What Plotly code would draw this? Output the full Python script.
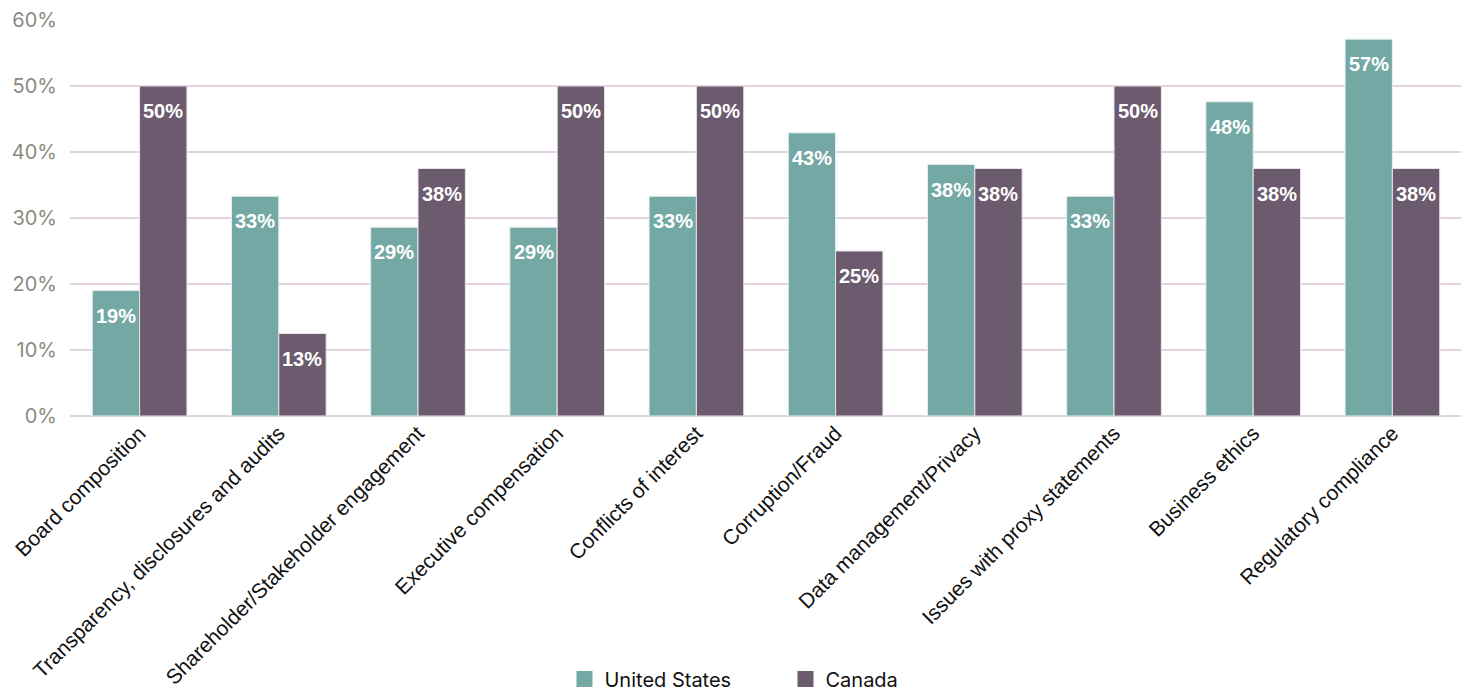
import plotly.graph_objects as go

categories = ["Board composition", "Transparency, disclosures and audits",
              "Shareholder/Stakeholder engagement", "Executive compensation",
              "Conflicts of interest", "Corruption/Fraud", "Data management/Privacy",
              "Issues with proxy statements", "Business ethics", "Regulatory compliance"]
us_values = [19.0, 33.3, 28.6, 28.6, 33.3, 42.9, 38.1, 33.3, 47.6, 57.1]
canada_values = [50.0, 12.5, 37.5, 50.0, 50.0, 25.0, 37.5, 50.0, 37.5, 37.5]
us_labels = ["19%", "33%", "29%", "29%", "33%", "43%", "38%", "33%", "48%", "57%"]
canada_labels = ["50%", "13%", "38%", "50%", "50%", "25%", "38%", "50%", "38%", "38%"]
tick_vals = [0, 10, 20, 30, 40, 50, 60]
tick_text = ["0%", "10%", "20%", "30%", "40%", "50%", "60%"]

US_COLOR = "#73a8a5"
CA_COLOR = "#6c5b6e"

# page is drawn with an 8px body margin, so size the figure to the visible area
W, H = 1461, 683
ML, MR, MT, MB = 62, 7, 12, 275
BARGAP = 0.32
plot_w = W - ML - MR
bar_px = plot_w / len(categories) * (1 - BARGAP) / 2

label_font = dict(family="Liberation Sans, Arial", size=20, color="white", weight="bold")

fig = go.Figure()
fig.add_trace(go.Bar(
    name="United States", x=categories, y=us_values, showlegend=False,
    marker=dict(color=US_COLOR, line=dict(color="#e6eeee", width=1)),
    hoverinfo="skip"))
fig.add_trace(go.Bar(
    name="Canada", x=categories, y=canada_values, showlegend=False,
    marker=dict(color=CA_COLOR, line=dict(color="#e6e2e6", width=1)),
    hoverinfo="skip"))

# legend-only entries with larger square swatches
for name, col in [("United States", US_COLOR), ("Canada", CA_COLOR)]:
    fig.add_trace(go.Scatter(
        name=name, x=[None], y=[None], mode="markers",
        marker=dict(symbol="square", size=20, color=col), hoverinfo="skip"))

for vals, labs, sign in [(us_values, us_labels, -1), (canada_values, canada_labels, 1)]:
    for c, v, t in zip(categories, vals, labs):
        fig.add_annotation(x=c, y=v, text=t, showarrow=False,
                           xanchor="center", yanchor="middle",
                           xshift=sign * bar_px / 2, yshift=-25,
                           font=label_font)

fig.update_layout(
    width=W, height=H,
    barmode="group", bargap=BARGAP, bargroupgap=0,
    plot_bgcolor="white", paper_bgcolor="white",
    margin=dict(l=ML, r=MR, t=MT, b=MB, autoexpand=False),
    font=dict(family="Liberation Sans, Arial", size=20, color="#111111"),
    legend=dict(orientation="h", x=0.514, xanchor="center", y=-0.664, yanchor="middle",
                font=dict(family="Inter", size=20, color="#111111"),
                itemsizing="trace",
                entrywidth=176, entrywidthmode="pixels", traceorder="normal"),
    xaxis=dict(tickangle=-45, showgrid=False, showline=False, ticks="", automargin=False,
               tickfont=dict(family="Liberation Sans, Arial", size=21, color="#111111")),
    yaxis=dict(range=[0, 60], tickvals=tick_vals, ticktext=tick_text, automargin=False,
               showgrid=True, gridcolor="#e3d3df", gridwidth=2,
               zeroline=True, zerolinecolor="#e3d3df", zerolinewidth=2,
               showline=False, ticks="", ticklabelstandoff=12,
               tickfont=dict(family="Inter", size=20, color="#8c8a80")),
)
fig.write_html("out.html")
